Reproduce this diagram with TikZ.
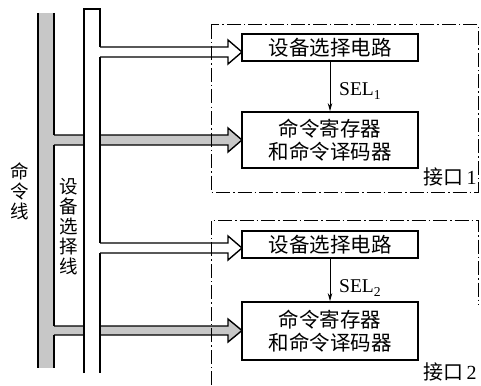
\documentclass[tikz,border=0pt]{standalone}
\usepackage{fontspec}
\setmainfont{Liberation Serif}
\newfontfamily\cjk{Noto Sans CJK SC}
\usetikzlibrary{arrows.meta}
\begin{document}
\begin{tikzpicture}[x=1pt,y=-1pt,
  busline/.style={line width=1.4pt},
  graybus/.style={fill=black!22},
  blk/.style={draw,line width=1.7pt,fill=white,inner sep=0pt,minimum width=176pt,
    font=\cjk\fontsize{20.5}{23.5}\selectfont,align=center},
  iface/.style={line width=1pt,dash pattern=on 14pt off 3pt on 1.5pt off 3pt},
  vlabel/.style={font=\cjk\fontsize{18.5}{20}\selectfont,align=center,inner sep=0pt},
  selarrow/.style={line width=0.9pt,-{Stealth[length=8pt,width=4.5pt]}},
]
\useasboundingbox (0,0) rectangle (481,385);

% command bus (gray)
\fill[graybus] (38,13) rectangle (54,368);
\fill[graybus] (54,135) -- (228,135) -- (228,128) -- (242,140) -- (228,152) -- (228,145) -- (54,145) -- cycle;
\draw[busline] (54,135) -- (228,135) -- (228,128) -- (242,140) -- (228,152) -- (228,145) -- (54,145);
\fill[graybus] (54,326) -- (228,326) -- (228,319) -- (242,330.5) -- (228,342) -- (228,335) -- (54,335) -- cycle;
\draw[busline] (54,326) -- (228,326) -- (228,319) -- (242,330.5) -- (228,342) -- (228,335) -- (54,335);
\draw[line width=2.2pt] (38,13) -- (38,368);
\draw[busline] (54,13) -- (54,135) (54,145) -- (54,326) (54,335) -- (54,368);

% device select bus (white)
\fill[white] (84,9) rectangle (100,373);
\draw[busline] (84,373) -- (84,9) -- (100,9) -- (100,47) (100,57) -- (100,243) (100,253) -- (100,373);
\filldraw[busline,fill=white] (100,47) -- (228,47) -- (228,40) -- (242,52) -- (228,64) -- (228,57) -- (100,57);
\filldraw[busline,fill=white] (100,243) -- (228,243) -- (228,236) -- (242,248) -- (228,260) -- (228,253) -- (100,253);

% interface frames
\draw[iface] (211,25) rectangle (478,192);
\draw[iface] (211,385) -- (211,220) -- (478,220) -- (478,305);

% blocks
\node[blk,minimum height=27pt] (s1) at (330,47.5) {设备选择电路};
\node[blk,minimum height=56pt] (c1) at (330,140) {命令寄存器\\和命令译码器};
\node[blk,minimum height=27pt] (s2) at (330,244.5) {设备选择电路};
\node[blk,minimum height=58pt] (c2) at (330,331) {命令寄存器\\和命令译码器};

\draw[selarrow] (s1.south) -- (c1.north);
\draw[selarrow] (s2.south) -- (c2.north);
\node[anchor=west,font=\fontsize{19.5}{22}\selectfont,inner sep=0pt] (sel1) at (339,91) {SEL\textsubscript{1}};
\node[anchor=west,font=\fontsize{19.5}{22}\selectfont,inner sep=0pt] (sel2) at (339,288) {SEL\textsubscript{2}};

\node[font=\fontsize{20}{22}\selectfont,inner sep=0pt] (if1) at (450,177) {{\cjk 接口}\,1};
\node[font=\fontsize{20}{22}\selectfont,inner sep=0pt] (if2) at (450,372) {{\cjk 接口}\,2};

\node[vlabel] (cmdlbl) at (20,191) {命\\令\\线};
\node[vlabel] (sellbl) at (69,227) {设\\备\\选\\择\\线};
\end{tikzpicture}
\end{document}
